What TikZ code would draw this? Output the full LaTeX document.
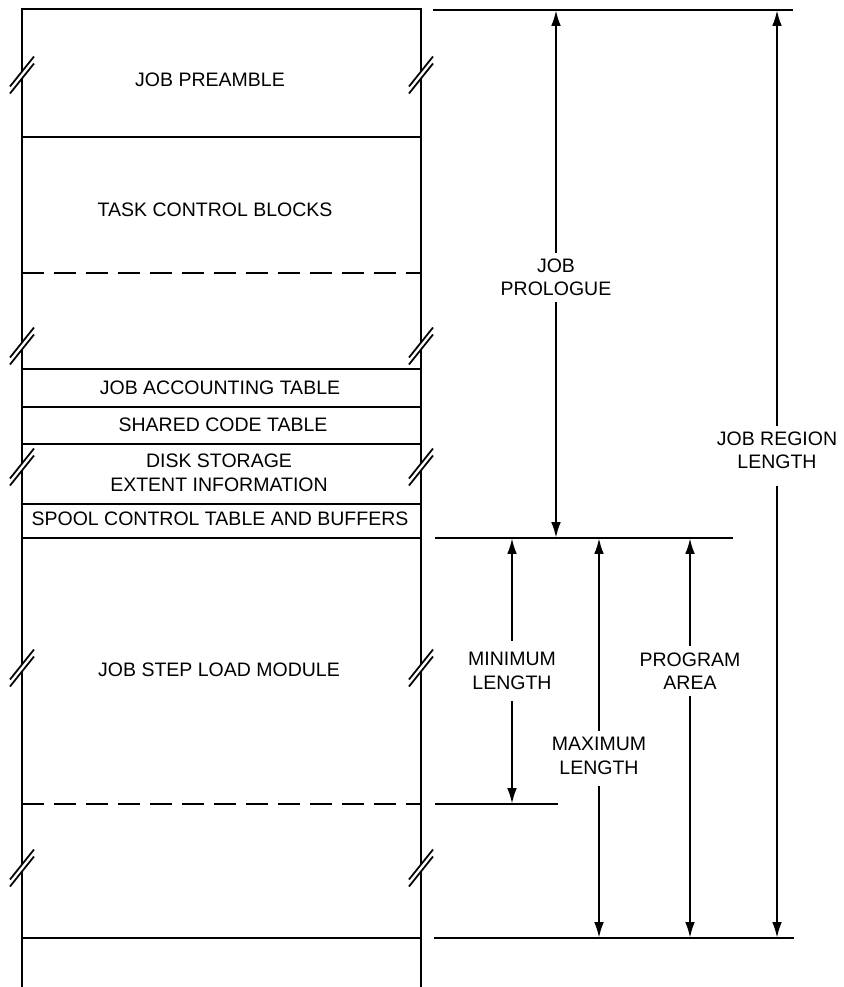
\documentclass[tikz,border=0pt]{standalone}
\usepackage{fontspec}
\setmainfont{Liberation Sans}
\usetikzlibrary{arrows.meta}

\begin{document}
\begin{tikzpicture}[x=0.02cm, y=-0.02cm,
  every node/.style={font=\fontsize{11.1}{13.4}\selectfont, align=center},
  wall/.style={line width=1.1pt},
  rule/.style={line width=1.2pt},
  gap/.style={line width=1.2pt, dash pattern=on 12.5pt off 5.7pt},
  dim/.style={line width=1.3pt, -{Latex[length=9pt,width=5.5pt]}},
  brk/.pic={
    \fill[white] (-12,11.5) -- (12,-18.5) -- (12,-11.5) -- (-12,18.5) -- cycle;
    \draw[line width=1pt] (-12,11.5) -- (12,-18.5) (-12,18.5) -- (12,-11.5);
  }]
  \useasboundingbox (0,0) rectangle (844,987);

  % memory column
  \draw[wall] (22,987) -- (22,9) -- (421,9) -- (421,987);
  \draw[rule] (22,137) -- (421,137);
  \draw[gap] (22,273) -- (421,273);
  \draw[rule] (22,369) -- (421,369);
  \draw[rule] (22,407) -- (421,407);
  \draw[rule] (22,444) -- (421,444);
  \draw[rule] (22,504) -- (421,504);
  \draw[rule] (22,538) -- (421,538);
  \draw[gap] (22,804) -- (421,804);
  \draw[rule] (22,938) -- (421,938);

  \foreach \y in {75,346,467,668,868} {
    \pic at (22,\y) {brk};
    \pic at (421,\y) {brk};
  }

  \node (preamble) at (210,80) {JOB PREAMBLE};
  \node (tcb) at (215,209.5) {TASK CONTROL BLOCKS};
  \node (acct) at (220,387.5) {JOB ACCOUNTING TABLE};
  \node (shared) at (223,425) {SHARED CODE TABLE};
  \node (disk) at (219,473) {DISK STORAGE\\EXTENT INFORMATION};
  \node (spool) at (220,519) {SPOOL CONTROL TABLE AND BUFFERS};
  \node (loadmod) at (219,669.5) {JOB STEP LOAD MODULE};

  % reference lines
  \coordinate (regtop) at (433,10);
  \coordinate (progtop) at (435,538);
  \coordinate (minbot) at (435,804);
  \coordinate (regbot) at (434,938);
  \draw[rule] (regtop) -- ++(360,0);
  \draw[rule] (progtop) -- ++(298,0);
  \draw[rule] (minbot) -- ++(123,0);
  \draw[rule] (regbot) -- ++(360,0);

  % lengths
  \node (prologue) at (556,277.5) {JOB\\PROLOGUE};
  \node (region) at (777,450.5) {JOB REGION\\LENGTH};
  \node (minimum) at (512,671) {MINIMUM\\LENGTH};
  \node (maximum) at (599,756) {MAXIMUM\\LENGTH};
  \node (program) at (690,671) {PROGRAM\\AREA};

  \draw[dim] (prologue.north) -- (prologue.north |- regtop);
  \draw[dim] (prologue.south) -- (prologue.south |- progtop);
  \draw[dim] (region.north) -- (region.north |- regtop);
  \draw[dim, shorten <=6pt] (region.south) -- (region.south |- regbot);
  \draw[dim, shorten <=3pt] (minimum.north) -- (minimum.north |- progtop);
  \draw[dim, shorten <=3pt] (minimum.south) -- (minimum.south |- minbot);
  \draw[dim] (maximum.north) -- (maximum.north |- progtop);
  \draw[dim, shorten <=3pt] (maximum.south) -- (maximum.south |- regbot);
  \draw[dim] (program.north) -- (program.north |- progtop);
  \draw[dim] (program.south) -- (program.south |- regbot);
\end{tikzpicture}
\end{document}
